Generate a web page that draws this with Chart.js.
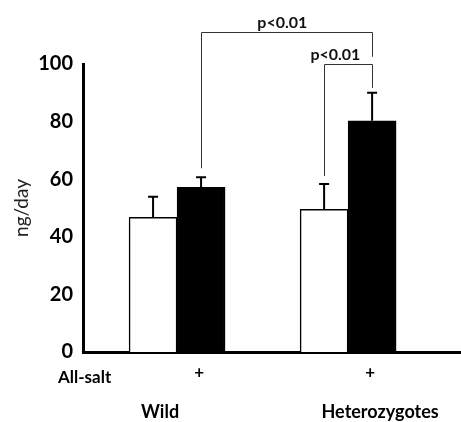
<!DOCTYPE html>
<html>
<head>
<meta charset="utf-8">
<script src="https://cdn.jsdelivr.net/npm/chart.js@4"></script>
<style>
  body { margin: 0; background: #fff; }
  canvas { display: block; }
</style>
</head>
<body>
<canvas id="myChart" width="461" height="422"></canvas>
<script>
// data
var groups = ['Wild', 'Heterozygotes'];
var controlValues = [46.8, 49.5];
var controlErrors = [7.1, 8.8];
var saltValues = [57.2, 80.3];
var saltErrors = [3.5, 9.7];
var saltMarks = ['+', '+'];
var yTicks = [0, 20, 40, 60, 80, 100];

// significance brackets: [dataset, index] at each end, top level, end levels
var bracketLabels = ['p<0.01', 'p<0.01'];
var bracketFrom = [[1, 0], [0, 1]];
var bracketTo = [[1, 1], [1, 1]];
var bracketTops = [111.2, 100];
var bracketLeftEnds = [63.8, 61.1];
var bracketRightEnds = [102.5, 91.7];

var FONT = 'Lato, "Open Sans", sans-serif';

var extras = {
    id: 'extras',
    afterDraw: function (chart) {
        var ctx = chart.ctx;
        var y = chart.scales.y;
        var x = chart.scales.x;
        var area = chart.chartArea;
        ctx.save();

        // error bars (upper half only)
        var errs = [controlErrors, saltErrors];
        var vals = [controlValues, saltValues];
        ctx.strokeStyle = '#000';
        ctx.lineWidth = 2;
        for (var d = 0; d < 2; d++) {
            var meta = chart.getDatasetMeta(d);
            meta.data.forEach(function (bar, i) {
                var top = y.getPixelForValue(vals[d][i] + errs[d][i]);
                ctx.beginPath();
                ctx.moveTo(bar.x, bar.y);
                ctx.lineTo(bar.x, top);
                ctx.moveTo(bar.x - 5, top);
                ctx.lineTo(bar.x + 5, top);
                ctx.stroke();
            });
        }

        // brackets
        ctx.strokeStyle = '#333';
        ctx.lineWidth = 1;
        ctx.fillStyle = '#111';
        ctx.font = 'bold 16px ' + FONT;
        ctx.textAlign = 'center';
        ctx.textBaseline = 'alphabetic';
        var labelPos = [0.475, 0.235];
        for (var b = 0; b < bracketLabels.length; b++) {
            var x1 = chart.getDatasetMeta(bracketFrom[b][0]).data[bracketFrom[b][1]].x;
            var x2 = chart.getDatasetMeta(bracketTo[b][0]).data[bracketTo[b][1]].x;
            var yt = Math.round(y.getPixelForValue(bracketTops[b])) + 0.5;
            ctx.beginPath();
            ctx.moveTo(Math.round(x1) + 0.5, y.getPixelForValue(bracketLeftEnds[b]));
            ctx.lineTo(Math.round(x1) + 0.5, yt);
            ctx.lineTo(Math.round(x2) + 0.5, yt);
            ctx.lineTo(Math.round(x2) + 0.5, y.getPixelForValue(bracketRightEnds[b]));
            ctx.stroke();
            ctx.fillText(bracketLabels[b], x1 + (x2 - x1) * labelPos[b], yt - 5);
        }

        // row under the axis
        ctx.fillStyle = '#000';
        ctx.textBaseline = 'middle';
        ctx.font = 'bold 17px ' + FONT;
        var saltMeta = chart.getDatasetMeta(1);
        saltMarks.forEach(function (m, i) {
            ctx.fillText(m, saltMeta.data[i].x - 2, area.bottom + 21);
        });
        ctx.textAlign = 'left';
        ctx.fillText('All-salt', area.left - 25, area.bottom + 26);

        // group names
        ctx.textAlign = 'center';
        ctx.textBaseline = 'alphabetic';
        ctx.font = 'bold 18px ' + FONT;
        var nameOffsets = [-17, 32];
        groups.forEach(function (g, i) {
            ctx.fillText(g, x.getPixelForValue(i) + nameOffsets[i], area.bottom + 66);
        });
        ctx.restore();
    }
};

var ctx = document.getElementById('myChart').getContext('2d');
var chart = new Chart(ctx, {
    type: 'bar',
    data: {
        datasets: [{
            label: 'Control',
            backgroundColor: '#fff',
            borderColor: '#000',
            borderWidth: 1.5,
            data: controlValues.map(function (v, i) { return { x: i, y: v }; })
        }, {
            label: 'All-salt',
            backgroundColor: '#000',
            borderColor: '#000',
            borderWidth: 1.5,
            data: saltValues.map(function (v, i) { return { x: i, y: v }; })
        }]
    },
    plugins: [extras],
    options: {
        responsive: false,
        animation: false,
        devicePixelRatio: 1,
        barThickness: 48,
        layout: { padding: { top: 64, right: 0, left: 0, bottom: 0 } },
        plugins: {
            legend: { display: false },
            tooltip: { enabled: false }
        },
        scales: {
            x: {
                type: 'linear',
                offset: false,
                min: -0.55,
                max: 1.66,
                grid: { display: false, drawTicks: false },
                border: { display: true, color: '#000', width: 3 },
                ticks: { display: false },
                afterBuildTicks: function (scale) {
                    scale.ticks = groups.map(function (g, i) { return { value: i }; });
                },
                afterFit: function (scale) { scale.height = 70; }
            },
            y: {
                min: 0,
                max: 100,
                grid: { display: false, drawTicks: false },
                border: { display: true, color: '#000', width: 3 },
                afterBuildTicks: function (scale) {
                    scale.ticks = yTicks.map(function (v) { return { value: v }; });
                },
                ticks: {
                    padding: 10,
                    color: '#000',
                    font: { family: FONT, size: 20, weight: 'bold' }
                },
                title: {
                    display: true,
                    text: 'ng/day',
                    color: '#222',
                    padding: { top: 10, bottom: 0 },
                    font: { family: FONT, size: 19 }
                },
                afterFit: function (scale) { scale.width = 83; }
            }
        }
    }
});
</script>
</body>
</html>
